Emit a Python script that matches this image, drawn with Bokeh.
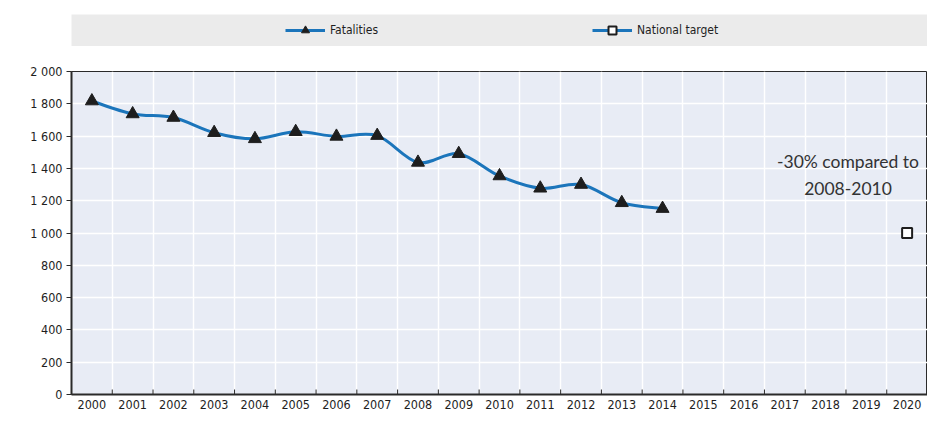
from bokeh.plotting import figure
from bokeh.models import FixedTicker, Legend, LegendItem, ColumnDataSource, Range1d
from bokeh.layouts import column
from bokeh.embed import file_html
from bokeh.resources import INLINE
from bokeh.core.properties import value

# ---- data ----
years = list(range(2000, 2021))
year_labels = [str(y) for y in years]
fat_years = list(range(2000, 2015))
fatalities = [1817, 1737, 1715, 1621, 1583, 1627, 1598, 1603, 1437, 1491, 1353, 1277, 1300, 1187, 1151]
target_years = [2020]
target_values = [1000]
y_ticks = [0, 200, 400, 600, 800, 1000, 1200, 1400, 1600, 1800, 2000]
y_tick_labels = ["0", "200", "400", "600", "800", "1 000", "1 200", "1 400", "1 600", "1 800", "2 000"]
annotation = "-30% compared to\n2008-2010"
series_names = ["Fatalities", "National target"]

BLUE = "#1b75bb"
DARK = "#1e1e1e"
AXIS = "#2a2a2a"
NARROW = "DejaVu Sans Condensed, Liberation Sans, sans-serif"

FRAME_W = 856
LEFT = 71

# ---- legend strip ----
leg = figure(frame_width=FRAME_W, frame_height=32, min_border_left=LEFT, min_border_right=0,
             min_border_top=14, min_border_bottom=0, x_axis_type=None, y_axis_type=None,
             toolbar_location=None, output_backend="svg",
             x_range=Range1d(0, 1), y_range=Range1d(0, 1))
leg.background_fill_color = "#ebebeb"
leg.outline_line_color = None
leg.xgrid.visible = False
leg.ygrid.visible = False
hidden = ColumnDataSource(dict(x=[-5], y=[-5]))
l1 = leg.line("x", "y", source=hidden, line_color=BLUE, line_width=3)
s1 = leg.scatter("x", "y", source=hidden, marker="triangle", size=12, fill_color=DARK, line_color=DARK)
l2 = leg.line("x", "y", source=hidden, line_color=BLUE, line_width=3)
s2 = leg.scatter("x", "y", source=hidden, marker="square", size=9, fill_color="white", line_color=DARK, line_width=2)
legend = Legend(items=[LegendItem(label=series_names[0], renderers=[l1, s1]),
                       LegendItem(label=series_names[1], renderers=[l2, s2])],
                orientation="horizontal", location=(214, 6), padding=0, margin=0,
                spacing=202, glyph_width=40, glyph_height=20, label_standoff=5, label_width=60,
                label_text_font=NARROW, label_text_font_size="12px", label_text_color=DARK,
                background_fill_alpha=0, border_line_color=None)
leg.add_layout(legend, "center")

# ---- main chart ----
p = figure(frame_width=FRAME_W, frame_height=323, min_border_left=LEFT, min_border_right=0,
           min_border_top=25, min_border_bottom=0,
           x_range=Range1d(years[0] - 0.5, years[-1] + 0.5), y_range=Range1d(y_ticks[0], y_ticks[-1]),
           toolbar_location=None, output_backend="svg")
p.background_fill_color = "#e8ecf5"
p.outline_line_color = AXIS
p.outline_line_width = 1

boundaries = [y + 0.5 for y in years[:-1]]
p.xgrid.ticker = FixedTicker(ticks=boundaries)
p.ygrid.ticker = FixedTicker(ticks=y_ticks)
p.grid.grid_line_color = "white"
p.grid.grid_line_width = 1.5

p.xaxis.ticker = FixedTicker(ticks=years)
p.xaxis.major_label_overrides = {y: l for y, l in zip(years, year_labels)}
p.xaxis.minor_tick_line_color = None
p.yaxis.ticker = FixedTicker(ticks=y_ticks)
p.yaxis.major_label_overrides = {t: l for t, l in zip(y_ticks, y_tick_labels)}
p.yaxis.major_tick_in = 0
p.yaxis.major_tick_out = 5
p.yaxis.minor_tick_line_color = None
p.yaxis.major_label_standoff = 4
for ax in (p.xaxis[0], p.yaxis[0]):
    ax.axis_line_color = AXIS
    ax.axis_line_width = 2
    ax.major_tick_line_color = AXIS
    ax.major_label_text_font = NARROW
    ax.major_label_text_font_size = "12.5px"
    ax.major_label_text_color = DARK
p.xaxis.major_tick_line_color = None
p.xaxis.major_tick_in = 0
p.xaxis.major_tick_out = 0
p.xaxis.major_label_standoff = 5

# small inward tick marks at the category boundaries
tick_len = (y_ticks[-1] - y_ticks[0]) * 5 / 323
p.segment(x0=boundaries, y0=[y_ticks[0]] * len(boundaries), x1=boundaries,
          y1=[y_ticks[0] + tick_len] * len(boundaries), line_color=AXIS, line_width=1)

# smooth line (Catmull-Rom segments drawn as Bezier curves)
n = len(fat_years)
x0, y0, x1, y1, cx0, cy0, cx1, cy1 = [], [], [], [], [], [], [], []
for i in range(n - 1):
    xa, ya = fat_years[i], fatalities[i]
    xb, yb = fat_years[i + 1], fatalities[i + 1]
    xp, yp = (fat_years[i - 1], fatalities[i - 1]) if i > 0 else (xa, ya)
    xn, yn = (fat_years[i + 2], fatalities[i + 2]) if i + 2 < n else (xb, yb)
    x0.append(xa); y0.append(ya); x1.append(xb); y1.append(yb)
    cx0.append(xa + (xb - xp) / 6); cy0.append(ya + (yb - yp) / 6)
    cx1.append(xb - (xn - xa) / 6); cy1.append(yb - (yn - ya) / 6)
p.bezier(x0=x0, y0=y0, x1=x1, y1=y1, cx0=cx0, cy0=cy0, cx1=cx1, cy1=cy1,
         line_color=BLUE, line_width=3)
p.scatter(fat_years, fatalities, marker="triangle", size=13, fill_color=DARK, line_color=DARK)
p.scatter(target_years, target_values, marker="square", size=10, fill_color="white",
          line_color=DARK, line_width=2)

p.text(x=[2018.55], y=[1505], text=[annotation], text_align="center", text_baseline="top",
       text_font=value("Lato"), text_font_size="17.5px", text_color="#333333",
       text_line_height=1.25)

layout = column(leg, p, spacing=0)
open("out.html", "w").write(file_html(layout, INLINE))
